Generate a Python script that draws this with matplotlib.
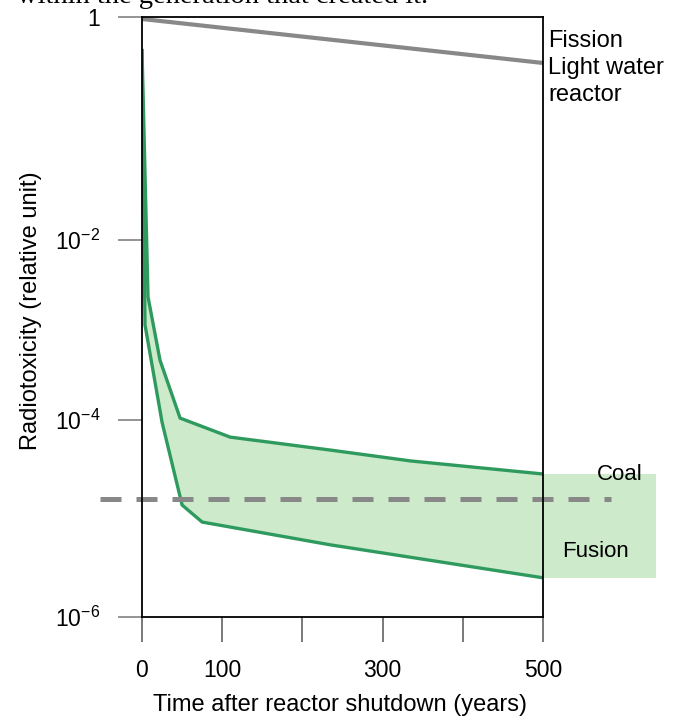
import numpy as np
import matplotlib
matplotlib.use("Agg")
import matplotlib.pyplot as plt

plt.rcParams["font.family"] = ["Liberation Sans", "DejaVu Sans"]
plt.rcParams["mathtext.fontset"] = "custom"
plt.rcParams["mathtext.rm"] = "Liberation Sans"
plt.rcParams["mathtext.it"] = "Liberation Sans:italic"
plt.rcParams["mathtext.bf"] = "Liberation Sans:bold"

# ---- data -------------------------------------------------------------
fission_years = [0, 500]
fission_tox = [0.96, 0.387]

fusion_upper_years = [0, 7.5, 22.5, 47.5, 110, 235, 335, 500]
fusion_upper_tox = [0.5, 2.33e-3, 4.6e-4, 1.05e-4, 6.7e-5, 4.95e-5, 3.84e-5, 2.83e-5]

fusion_lower_years = [0, 3.75, 25, 50, 75, 235, 500]
fusion_lower_tox = [0.5, 1.14e-3, 9.5e-5, 1.37e-5, 9.2e-6, 5.4e-6, 2.5e-6]

coal_tox = 1.58e-5
coal_years = [-52, 585]

fusion_band_years = [500, 641]

x_ticks = [0, 100, 200, 300, 400, 500]
x_tick_labels = ["0", "100", "", "300", "", "500"]
y_ticks = [1e-6, 1e-4, 1e-2, 1]
y_tick_labels = [r"$10^{-6}$", r"$10^{-4}$", r"$10^{-2}$", "1"]

# ---- schematic (uneven) decade spacing of the vertical axis -------------
decades = [-6, -4, -2, 0]
decade_pos = [0, 197, 377, 600]


def fwd(v):
    v = np.asarray(v, dtype=float)
    with np.errstate(divide="ignore", invalid="ignore"):
        lv = np.log10(np.where(v > 0, v, 1e-12))
    return np.interp(lv, decades, decade_pos, left=-200, right=800)


def inv(p):
    p = np.asarray(p, dtype=float)
    return 10 ** np.interp(p, decade_pos, decades)


line_green = "#2e9a5e"
fill_green = "#cdeacb"
grey = "#888888"

fig = plt.figure(figsize=(6.75, 7.18), dpi=100)
ax = fig.add_axes([142 / 675, 1 - 617 / 718, 401 / 675, 600 / 718])
ax.set_yscale("function", functions=(fwd, inv))
ax.set_xlim(0, 500)
ax.set_ylim(1e-6, 1)

# fusion band inside the plot
band_x = np.concatenate([fusion_upper_years, fusion_lower_years[::-1]])
band_y = np.concatenate([fusion_upper_tox, fusion_lower_tox[::-1]])
ax.fill(band_x, band_y, color=fill_green, lw=0, zorder=1)

# fusion band continued to the right of the plot
ext = ax.fill_between(fusion_band_years, fusion_lower_tox[-1], fusion_upper_tox[-1],
                      color=fill_green, lw=0, zorder=1)
ext.set_clip_on(False)

ax.plot(fusion_upper_years, fusion_upper_tox, color=line_green, lw=2.4,
        solid_joinstyle="miter", zorder=3)
ax.plot(fusion_lower_years, fusion_lower_tox, color=line_green, lw=2.4,
        solid_joinstyle="miter", zorder=3)

ax.plot(fission_years, fission_tox, color=grey, lw=3.0, zorder=3,
        solid_capstyle="butt")

ax.plot(coal_years, [coal_tox, coal_tox], color=grey, lw=3.6,
        linestyle=(0, (4.2, 3.0)), clip_on=False, zorder=4)

for s in ax.spines.values():
    s.set_linewidth(1.3)
    s.set_color("black")
    s.set_zorder(5)

ax.set_xticks(x_ticks)
ax.set_xticklabels(x_tick_labels)
ax.set_yticks(y_ticks)
ax.set_yticklabels(y_tick_labels)
ax.yaxis.set_minor_locator(matplotlib.ticker.NullLocator())
ax.tick_params(axis="y", direction="out", length=17, width=1.1, color="#777777",
               pad=13, labelsize=16.5)
ax.tick_params(axis="x", direction="out", length=18, width=1.1, color="#555555",
               pad=12, labelsize=16.5)

ax.set_xlabel("Time after reactor shutdown (years)", fontsize=17)
ax.xaxis.set_label_coords(0.495, -0.128)
ax.set_ylabel("Radiotoxicity (relative unit)", fontsize=17)
ax.yaxis.set_label_coords(-0.25, 0.51)

fig.text(548 / 675, 1 - 47 / 718, "Fission", fontsize=17, va="baseline")
fig.text(548 / 675, 1 - 74 / 718, "Light water", fontsize=17, va="baseline")
fig.text(548 / 675, 1 - 101 / 718, "reactor", fontsize=17, va="baseline")
fig.text(597 / 675, 1 - 480 / 718, "Coal", fontsize=16, va="baseline")
fig.text(562 / 675, 1 - 557 / 718, "Fusion", fontsize=16, va="baseline")

fig.text(17 / 675, 1 - 3 / 718, "within the generation that created it.",
         fontsize=20.5, family=["Liberation Serif", "DejaVu Serif"], va="baseline")

fig.savefig("out.png", dpi=100)
